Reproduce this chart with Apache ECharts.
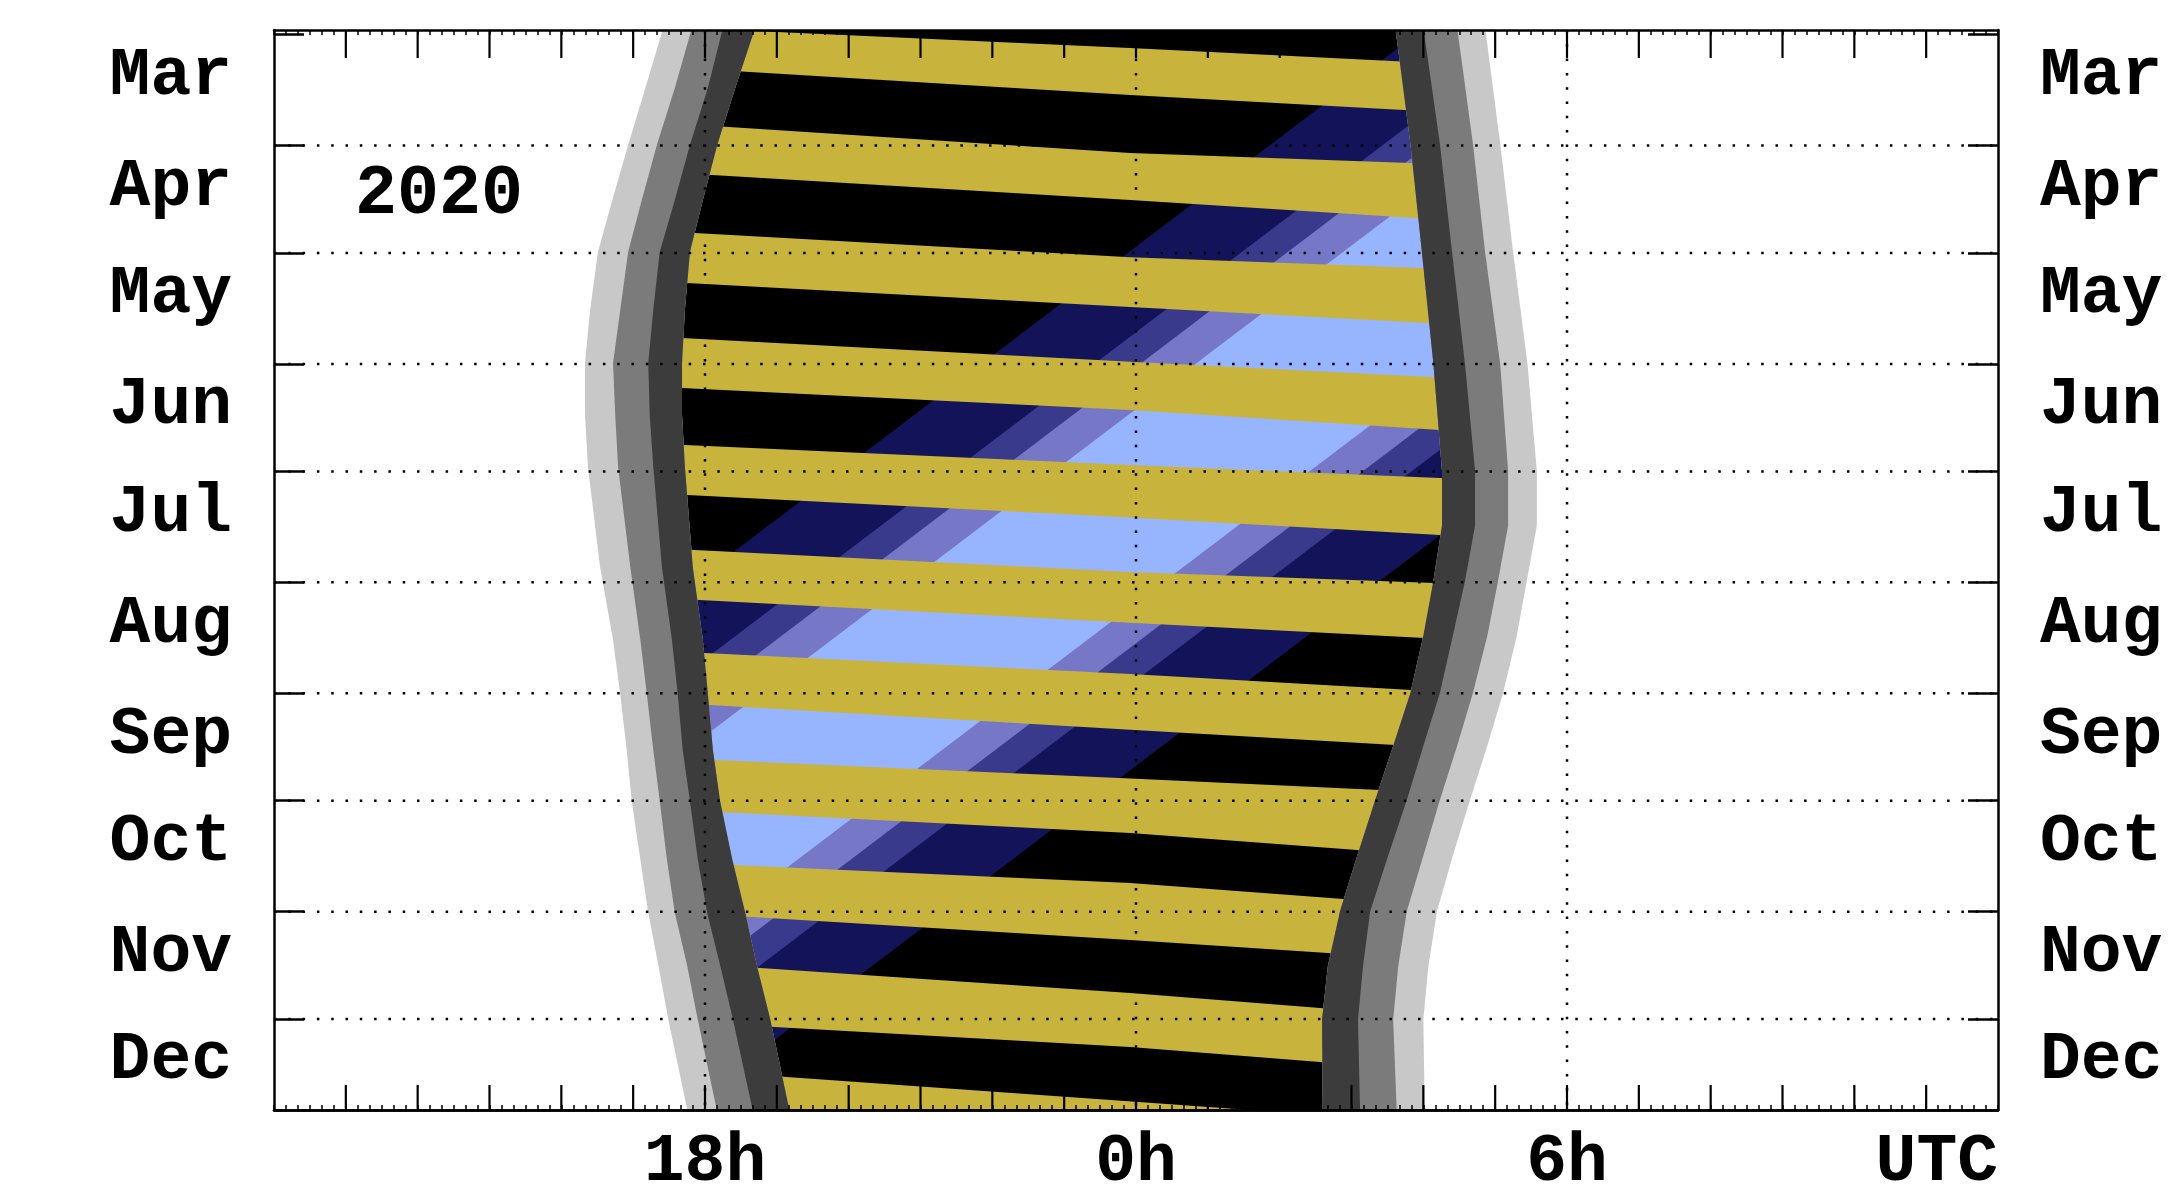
<!DOCTYPE html>
<html><head><meta charset="utf-8">
<script src="https://cdn.jsdelivr.net/npm/echarts@6/dist/echarts.min.js"></script>
<style>html,body{margin:0;padding:0;background:#fff}#c{width:2183px;height:1184px}</style>
</head><body><div id="c"></div>
<script>
// ---------- DATA (days counted from 1 Mar 2020, hours UTC; 24 = midnight, >24 = next morning) ----------
const yearLabel = '2020';
const monthNames = ['Mar','Apr','May','Jun','Jul','Aug','Sep','Oct','Nov','Dec'];
const monthStartDays = [0,31,61,92,122,153,184,214,245,275];
const hourLabelValues = [18,24,30,36];
const hourLabelTexts = ['18h','0h','6h','UTC'];
const hourGridValues = [18,24,30];
const hourTickValues = [13,14,15,16,17,18,19,20,21,22,23,24,25,26,27,28,29,30,31,32,33,34,35];

// evening side: sunset, end of civil, nautical, astronomical twilight
const eveDays     = [-2, 14.9, 30.8, 46.2, 60.7, 76.9, 91.7, 106.2, 120.7, 148.7, 169.1, 184.2, 199.8, 214.1, 230.5, 245.3, 259.9, 275.2, 301];
const eveSunset   = [17.42,17.17,16.93,16.71,16.51,16.40,16.33,16.33,16.37,16.54,16.72,16.82,16.91,16.98,17.10,17.21,17.35,17.49,17.76];
const eveCivil    = [17.82,17.58,17.33,17.12,16.93,16.82,16.72,16.75,16.79,16.96,17.10,17.19,17.28,17.37,17.47,17.58,17.75,17.90,18.17];
const eveNautical = [18.25,18.04,17.79,17.58,17.37,17.28,17.21,17.23,17.28,17.40,17.54,17.62,17.69,17.79,17.90,18.03,18.21,18.39,18.67];
const eveAstro    = [18.70,18.42,18.17,17.97,17.79,17.72,17.68,17.68,17.72,17.83,17.97,18.04,18.11,18.21,18.38,18.56,18.72,18.91,19.18];
// morning side: start of astronomical, nautical, civil twilight, sunrise
const mornDays     = [-2, 30.4, 60.8, 92.0, 121.8, 137.2, 152.6, 168.0, 183.9, 198.7, 213.8, 229.4, 244.9, 260.3, 275.1, 301];
const mornAstro    = [27.61,27.82,27.98,28.14,28.26,28.26,28.14,28.00,27.82,27.58,27.33,27.08,26.84,26.67,26.59,26.60];
const mornNautical = [28.00,28.23,28.40,28.58,28.72,28.72,28.58,28.41,28.23,28.00,27.77,27.51,27.26,27.16,27.09,27.12];
const mornCivil    = [28.47,28.69,28.86,29.07,29.18,29.18,29.04,28.89,28.69,28.47,28.23,28.00,27.77,27.65,27.58,27.63];
const mornSunrise  = [28.86,29.07,29.25,29.45,29.58,29.58,29.44,29.30,29.11,28.89,28.65,28.41,28.19,28.07,28.00,28.02];

// moon above horizon: upper and lower edge of each band, [hour, day]
const moonUpper = [
  [[18.70,-1.03],[23.99,3.80],[27.56,7.35]],
  [[18.28,25.70],[23.92,33.04],[27.82,35.84]],
  [[17.86,55.39],[23.92,62.20],[27.98,65.17]],
  [[17.68,84.72],[23.92,91.40],[28.12,95.61]],
  [[17.72,114.61],[23.92,120.20],[28.23,123.83]],
  [[17.86,143.94],[23.92,150.10],[28.16,153.16]],
  [[18.00,172.71],[23.92,178.60],[27.84,183.04]],
  [[18.14,202.60],[23.92,207.80],[27.40,210.98]],
  [[18.38,231.93],[23.92,237.00],[26.84,241.42]],
  [[18.77,260.70],[23.92,267.70],[26.52,271.87]],
  [[19.14,291.15],[23.99,298.10]]
];
const moonLower = [
  [[18.57,10.34],[23.92,16.84],[27.73,21.03]],
  [[18.10,39.19],[23.92,46.17],[27.88,51.20]],
  [[17.75,69.36],[23.92,76.06],[28.05,80.53]],
  [[17.68,98.69],[23.92,104.83],[28.23,110.42]],
  [[17.75,128.57],[23.92,134.90],[28.23,139.75]],
  [[17.93,157.91],[23.92,164.30],[28.02,168.52]],
  [[18.07,187.23],[23.92,194.20],[27.61,198.41]],
  [[18.21,217.12],[23.92,223.00],[27.08,227.74]],
  [[18.59,246.45],[23.92,252.90],[26.67,256.51]],
  [[18.97,277.18],[23.92,282.80],[26.56,286.96]],
  [[19.30,305.50],[24.00,312.00],[26.60,316.00]]
];

// galactic centre altitude bands (navy, medium, lavender, light): hour at day 0 and day 300
const gcDays = [0, 300];
const gcRise = [[27.89,8.18],[29.46,9.75],[30.10,10.39],[30.87,11.16]];
const gcSet  = [[37.42,17.71],[35.85,16.14],[35.17,15.46],[34.43,14.72]];

// ---------- CHART ----------
const C = {
  yellow:'#C8B43C', blues:['#13135A','#3A3A8C','#7777C8','#97B5FF'],
  dark:'#3C3C3C', mid:'#7B7B7B', light:'#C8C8C8', white:'#FFFFFF'
};
const Y_MIN = -1.3, Y_MAX = 300.4, X_MIN = 12, X_MAX = 36;
const FONT = 'Liberation Mono';

function band(days, a, b) {
  const A = days.map((d,i)=>[typeof a==='number'?a:a[i], d]);
  const B = days.map((d,i)=>[typeof b==='number'?b:b[i], d]).reverse();
  return A.concat(B);
}
function extendEdge(pts, ext) {
  const n = pts.length;
  const s0 = (pts[1][1]-pts[0][1])/(pts[1][0]-pts[0][0]);
  const s1 = (pts[n-1][1]-pts[n-2][1])/(pts[n-1][0]-pts[n-2][0]);
  return [[pts[0][0]-ext, pts[0][1]-ext*s0]].concat(pts, [[pts[n-1][0]+ext, pts[n-1][1]+ext*s1]]);
}
function polySeries(polys, color, z) {
  return {
    type:'custom', z, clip:true, silent:true, animation:false,
    xAxisIndex:0, yAxisIndex:0,
    data: polys.map(()=>[X_MIN, 0]),
    renderItem: (params, api) => ({
      type:'polygon',
      shape:{points: polys[params.dataIndex].map(p=>api.coord(p))},
      style:{fill: color}
    })
  };
}

const series = [];
gcRise.forEach((r,k)=>{
  const s = gcSet[k];
  series.push(polySeries([[[r[0],gcDays[0]],[s[0],gcDays[0]],[s[1],gcDays[1]],[r[1],gcDays[1]]]], C.blues[k], 1+k));
});
const moonPolys = moonUpper.map((u,i)=>{
  const up = extendEdge(u, 2.5), lo = extendEdge(moonLower[i], 2.5);
  return up.concat(lo.slice().reverse());
});
series.push(polySeries(moonPolys, C.yellow, 6));
series.push(polySeries([band(eveDays, 10, eveCivil), band(mornDays, mornCivil, 38)], C.white, 7));
series.push(polySeries([band(eveDays, eveSunset, eveAstro), band(mornDays, mornAstro, mornSunrise)], C.light, 8));
series.push(polySeries([band(eveDays, eveCivil, eveAstro), band(mornDays, mornAstro, mornCivil)], C.mid, 9));
series.push(polySeries([band(eveDays, eveNautical, eveAstro), band(mornDays, mornAstro, mornNautical)], C.dark, 10));

const dotStyle = {stroke:'#000', lineWidth:2.5, lineDash:[2.5,11.8]};
series.push({
  type:'custom', z:11, clip:true, silent:true, animation:false, xAxisIndex:0, yAxisIndex:0,
  data: monthStartDays.slice(1).map(d=>[X_MIN, d]),
  renderItem:(p, api)=>{
    const a = api.coord([X_MIN, api.value(1)]), b = api.coord([X_MAX, api.value(1)]);
    return {type:'line', shape:{x1:a[0],y1:a[1],x2:b[0],y2:b[1]}, style:dotStyle};
  }
});
series.push({
  type:'custom', z:11, clip:true, silent:true, animation:false, xAxisIndex:0, yAxisIndex:0,
  data: hourGridValues.map(h=>[h, 0]),
  renderItem:(p, api)=>{
    const a = api.coord([api.value(0), Y_MIN]), b = api.coord([api.value(0), Y_MAX]);
    return {type:'line', shape:{x1:a[0],y1:a[1],x2:b[0],y2:b[1]}, style:dotStyle};
  }
});
// hourly inward ticks on top and bottom frame
series.push({
  type:'custom', z:13, clip:false, silent:true, animation:false, xAxisIndex:0, yAxisIndex:0,
  data: hourTickValues.map(h=>[h, 0]),
  renderItem:(p, api)=>{
    const t = api.coord([api.value(0), Y_MIN]), b = api.coord([api.value(0), Y_MAX]);
    const st = {stroke:'#000', lineWidth:2.2};
    return {type:'group', children:[
      {type:'line', shape:{x1:t[0],y1:t[1],x2:t[0],y2:t[1]+28}, style:st},
      {type:'line', shape:{x1:b[0],y1:b[1],x2:b[0],y2:b[1]-25}, style:st}
    ]};
  }
});

const labelDays = monthStartDays.map(d=>d+11.8);
function monthFmt(v){ const i = labelDays.findIndex(x=>Math.abs(x-v)<0.01); return i>=0 ? monthNames[i] : ''; }
function hourFmt(v){ const i = hourLabelValues.findIndex(x=>Math.abs(x-v)<0.01); return i>=0 ? hourLabelTexts[i] : ''; }

const axisLine = {show:true, onZero:false, lineStyle:{color:'#000', width:2.5}};
function xTickAxis(pos) {
  return {
    type:'value', position:pos, min:X_MIN, max:X_MAX, interval:1, z:12,
    axisLine, splitLine:{show:false},
    axisTick:{show:true, inside:true, length:5, lineStyle:{color:'#000', width:1.5}},
    minorTick:{show:true, splitNumber:6, length:5, lineStyle:{color:'#000', width:1.5}},
    axisLabel:{show:false}
  };
}
function yAxis(pos) {
  return {
    type:'value', position:pos, min:Y_MIN, max:Y_MAX, inverse:true, z:12,
    axisLine, splitLine:{show:false},
    axisTick:{show:true, inside:true, length:30, customValues:monthStartDays, lineStyle:{color:'#000', width:2.5}},
    axisLabel:{show:true, customValues:labelDays, formatter:monthFmt, margin:42,
      color:'#000', fontFamily:FONT, fontWeight:'bold', fontSize:68}
  };
}

const chart = echarts.init(document.getElementById('c'));
chart.setOption({
  animation:false,
  backgroundColor:'#fff',
  grid:{left:274, right:185, top:30, bottom:74, show:true, backgroundColor:'#000', borderWidth:0, outerBoundsMode:'none', containLabel:false},
  xAxis:[
    {
      type:'value', position:'bottom', min:X_MIN, max:X_MAX, interval:1, z:12,
      axisLine, splitLine:{show:false}, axisTick:{show:false}, minorTick:{show:false},
      axisLabel:{show:true, interval:0, formatter:hourFmt, margin:19, showMaxLabel:true,
        alignMaxLabel:'right', color:'#000', fontFamily:FONT, fontWeight:'bold', fontSize:68}
    },
    xTickAxis('top'),
    xTickAxis('bottom')
  ],
  yAxis:[yAxis('left'), yAxis('right')],
  graphic:[{type:'text', left:355, top:160, z:20, style:{text:yearLabel, fill:'#000', fontFamily:FONT, fontWeight:'bold', fontSize:70}}],
  series
});
</script>
</body></html>
